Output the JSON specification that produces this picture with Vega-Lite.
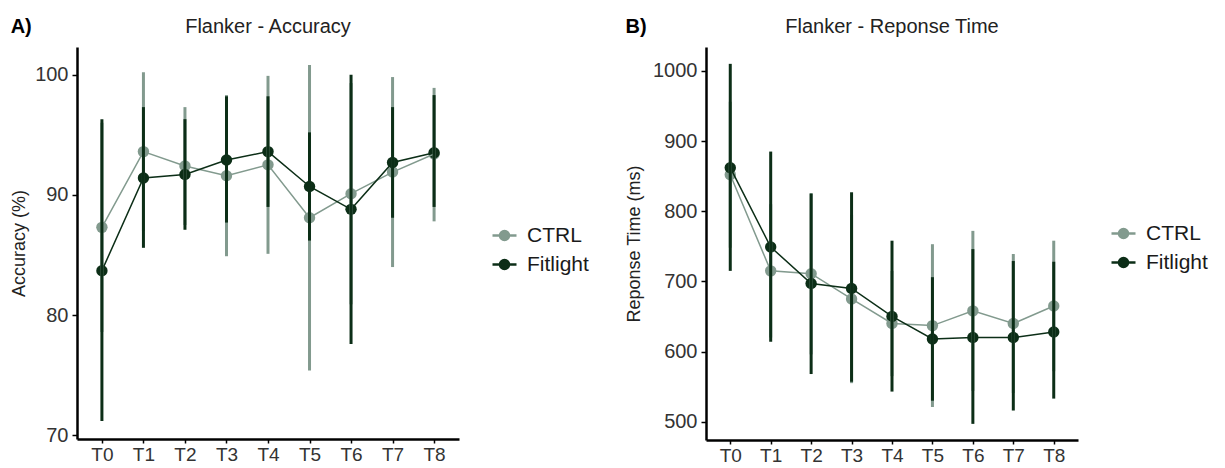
{
  "$schema": "https://vega.github.io/schema/vega-lite/v6.json",
  "background": "white",
  "padding": {"left": 10, "top": 17, "right": 5, "bottom": 0},
  "config": {
    "font": "Liberation Sans",
    "view": {"stroke": null},
    "axis": {"domainColor": "black", "domainWidth": 2.5, "tickColor": "black", "tickWidth": 1.5, "tickSize": 5, "labelPadding": 4, "labelFontSize": 20, "labelColor": "#333333", "titleFontSize": 18, "titleFontWeight": "normal", "titleColor": "#222222", "grid": false, "labelFont": "Liberation Sans", "titleFont": "Liberation Sans"},
    "axisX": {"labelFontSize": 19, "labelPadding": 2, "tickSize": 4},
    "title": {"fontSize": 20, "fontWeight": "normal", "color": "#222222", "font": "Liberation Sans"}
  },
  "datasets": {
    "acc": [
      {"group": "CTRL", "time": "T0", "mean": 87.3, "lo": 78.6, "hi": 96.0},
      {"group": "CTRL", "time": "T1", "mean": 93.6, "lo": 87.0, "hi": 100.2},
      {"group": "CTRL", "time": "T2", "mean": 92.4, "lo": 87.5, "hi": 97.3},
      {"group": "CTRL", "time": "T3", "mean": 91.6, "lo": 84.9, "hi": 98.3},
      {"group": "CTRL", "time": "T4", "mean": 92.5, "lo": 85.1, "hi": 99.9},
      {"group": "CTRL", "time": "T5", "mean": 88.1, "lo": 75.4, "hi": 100.8},
      {"group": "CTRL", "time": "T6", "mean": 90.1, "lo": 80.9, "hi": 99.3},
      {"group": "CTRL", "time": "T7", "mean": 91.9, "lo": 84.0, "hi": 99.8},
      {"group": "CTRL", "time": "T8", "mean": 93.4, "lo": 87.8, "hi": 98.9},
      {"group": "Fitlight", "time": "T0", "mean": 83.7, "lo": 71.2, "hi": 96.3},
      {"group": "Fitlight", "time": "T1", "mean": 91.4, "lo": 85.6, "hi": 97.3},
      {"group": "Fitlight", "time": "T2", "mean": 91.7, "lo": 87.1, "hi": 96.3},
      {"group": "Fitlight", "time": "T3", "mean": 92.9, "lo": 87.7, "hi": 98.2},
      {"group": "Fitlight", "time": "T4", "mean": 93.6, "lo": 89.0, "hi": 98.2},
      {"group": "Fitlight", "time": "T5", "mean": 90.7, "lo": 86.2, "hi": 95.2},
      {"group": "Fitlight", "time": "T6", "mean": 88.8, "lo": 77.6, "hi": 100.0},
      {"group": "Fitlight", "time": "T7", "mean": 92.7, "lo": 88.1, "hi": 97.3},
      {"group": "Fitlight", "time": "T8", "mean": 93.5, "lo": 89.0, "hi": 98.3}
    ],
    "rt": [
      {"group": "CTRL", "time": "T0", "mean": 852, "lo": 748, "hi": 956},
      {"group": "CTRL", "time": "T1", "mean": 715, "lo": 620, "hi": 810},
      {"group": "CTRL", "time": "T2", "mean": 711, "lo": 596, "hi": 826},
      {"group": "CTRL", "time": "T3", "mean": 675, "lo": 555, "hi": 795},
      {"group": "CTRL", "time": "T4", "mean": 640, "lo": 565, "hi": 715},
      {"group": "CTRL", "time": "T5", "mean": 637, "lo": 521, "hi": 753},
      {"group": "CTRL", "time": "T6", "mean": 658, "lo": 544, "hi": 772},
      {"group": "CTRL", "time": "T7", "mean": 640, "lo": 541, "hi": 739},
      {"group": "CTRL", "time": "T8", "mean": 665, "lo": 572, "hi": 758},
      {"group": "Fitlight", "time": "T0", "mean": 862, "lo": 715, "hi": 1010},
      {"group": "Fitlight", "time": "T1", "mean": 749, "lo": 614, "hi": 885},
      {"group": "Fitlight", "time": "T2", "mean": 697, "lo": 568, "hi": 825},
      {"group": "Fitlight", "time": "T3", "mean": 690, "lo": 557, "hi": 827},
      {"group": "Fitlight", "time": "T4", "mean": 650, "lo": 543, "hi": 758},
      {"group": "Fitlight", "time": "T5", "mean": 618, "lo": 530, "hi": 706},
      {"group": "Fitlight", "time": "T6", "mean": 620, "lo": 497, "hi": 746},
      {"group": "Fitlight", "time": "T7", "mean": 620, "lo": 516, "hi": 729},
      {"group": "Fitlight", "time": "T8", "mean": 628, "lo": 533, "hi": 728}
    ]
  },
  "spacing": 36,
  "resolve": {"scale": {"color": "independent", "y": "independent", "x": "independent"}, "legend": {"color": "independent"}},
  "hconcat": [
    {
      "title": {"text": "A)", "anchor": "start", "frame": "bounds", "fontWeight": "bold", "fontSize": 20, "color": "#000000", "offset": -20},
      "vconcat": [
        {
          "title": {"text": "Flanker - Accuracy", "offset": 10},
          "width": 382,
          "height": 392,
          "data": {"name": "acc"},
          "encoding": {
            "x": {"field": "time", "type": "nominal", "scale": {"type": "point", "padding": 0.6}, "axis": {"title": null, "labelAngle": 0}},
            "color": {"field": "group", "type": "nominal", "scale": {"domain": ["CTRL", "Fitlight"], "range": ["#829a8e", "#0c2e17"]},
              "legend": {"title": null, "orient": "none", "legendX": 417, "legendY": 178, "symbolType": "M-1.6,0L1.6,0M-0.6,0A0.6,0.6,0,1,0,0.6,0A0.6,0.6,0,1,0,-0.6,0Z", "symbolSize": 225, "symbolStrokeWidth": 2.5, "labelFontSize": 21, "labelColor": "#1a1a1a", "labelOffset": 12, "rowPadding": 7,
                "encode": {"symbols": {"update": {"fill": {"signal": "datum.value === 'CTRL' ? '#829a8e' : '#0c2e17'"}, "stroke": {"signal": "datum.value === 'CTRL' ? '#829a8e' : '#0c2e17'"}, "opacity": {"value": 1}}}}}}
          },
          "layer": [
            {"mark": {"type": "circle", "size": 130, "opacity": 1}, "encoding": {"y": {"field": "mean", "type": "quantitative", "scale": {"domain": [69.7, 102.3], "nice": false, "zero": false}, "axis": {"title": "Accuracy (%)", "values": [70, 80, 90, 100], "format": "d", "titlePadding": 6}}}},
            {"mark": {"type": "line", "strokeWidth": 1.5}, "encoding": {"y": {"field": "mean", "type": "quantitative"}, "detail": {"field": "group"}}},
            {"mark": {"type": "rule", "strokeWidth": 3}, "encoding": {"y": {"field": "lo", "type": "quantitative"}, "y2": {"field": "hi"}}}
          ]
        }
      ]
    },
    {
      "title": {"text": "B)", "anchor": "start", "frame": "bounds", "fontWeight": "bold", "fontSize": 20, "color": "#000000", "offset": -20},
      "vconcat": [
        {
          "title": {"text": "Flanker - Reponse Time", "offset": 10},
          "width": 372,
          "height": 393,
          "data": {"name": "rt"},
          "encoding": {
            "x": {"field": "time", "type": "nominal", "scale": {"type": "point", "padding": 0.6}, "axis": {"title": null, "labelAngle": 0}},
            "color": {"field": "group", "type": "nominal", "scale": {"domain": ["CTRL", "Fitlight"], "range": ["#829a8e", "#0c2e17"]},
              "legend": {"title": null, "orient": "none", "legendX": 407, "legendY": 176, "symbolType": "M-1.6,0L1.6,0M-0.6,0A0.6,0.6,0,1,0,0.6,0A0.6,0.6,0,1,0,-0.6,0Z", "symbolSize": 225, "symbolStrokeWidth": 2.5, "labelFontSize": 21, "labelColor": "#1a1a1a", "labelOffset": 12, "rowPadding": 7,
                "encode": {"symbols": {"update": {"fill": {"signal": "datum.value === 'CTRL' ? '#829a8e' : '#0c2e17'"}, "stroke": {"signal": "datum.value === 'CTRL' ? '#829a8e' : '#0c2e17'"}, "opacity": {"value": 1}}}}}}
          },
          "layer": [
            {"mark": {"type": "circle", "size": 130, "opacity": 1}, "encoding": {"y": {"field": "mean", "type": "quantitative", "scale": {"domain": [474, 1034], "nice": false, "zero": false}, "axis": {"title": "Reponse Time (ms)", "values": [500, 600, 700, 800, 900, 1000], "format": "d", "titlePadding": 9}}}},
            {"mark": {"type": "line", "strokeWidth": 1.5}, "encoding": {"y": {"field": "mean", "type": "quantitative"}, "detail": {"field": "group"}}},
            {"mark": {"type": "rule", "strokeWidth": 3}, "encoding": {"y": {"field": "lo", "type": "quantitative"}, "y2": {"field": "hi"}}}
          ]
        }
      ]
    }
  ]
}
